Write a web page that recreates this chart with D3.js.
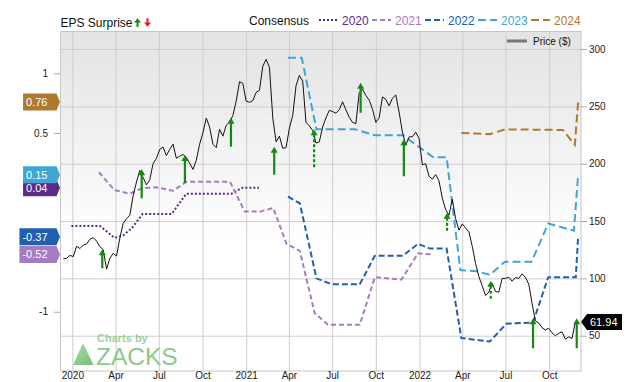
<!DOCTYPE html>
<html><head><meta charset="utf-8">
<script src="https://cdn.jsdelivr.net/npm/d3@7"></script>
<style>body{margin:0;background:#fff}svg{display:block;font-family:"Liberation Sans",Arial,sans-serif}</style>
</head><body><svg id="c" width="640" height="382"></svg>
<script>
// ---------- DATA ----------
const priceStart = "2019-12-13"; // weekly closes
const priceValues = [117,117.5,120,119,128,126,129,130,134,135.5,
132.5,127.6,125,108,117.5,121.8,119.5,135,148,152,
155,172,184,194,188,181.5,186,200,204.5,212.5,
214.5,207,212.5,217,204.7,206.5,208,205.5,200.5,195,
203,217,227,239.8,232,217,214,230,224,233.5,
236.3,242,254.5,271.5,270,254.5,253.5,255,262.2,264,
285,291,284,240,219,224,213.4,214,231,242,
268,277,272,236,233,229,218,219,232,240,
246.5,245.5,244,247,254,247,240.5,236,235,262,
265,259.5,255.5,247.5,236,240,258.3,256,250.5,257,
260,245,227.5,216,223.3,223.5,227.5,222,199,200,
189,186.5,190.5,185,170,160,155,169,152,142,
147.5,144,140.5,128,113,101.5,93.5,85,88,95.5,
88.5,88,100,100,101,97.5,100.7,100,104,101,
95,78,63,61,57,55,56.5,52.5,50,52,
53.5,47,49,47.5,61.94];
const lastPrice = 61.94;

const consensusYears = ["2020","2021","2022","2023","2024"];
const cons2020 = [["2019-12-30",-0.28],["2020-02-28",-0.28],["2020-03-30",-0.38],["2020-04-17",-0.36],["2020-05-05",-0.30],["2020-05-28",-0.18],["2020-07-28",-0.18],["2020-08-28",-0.01],["2020-12-01",-0.01],["2020-12-24",0.04],["2021-01-28",0.04]];
const cons2021 = [["2020-02-26",0.17],["2020-03-30",0.02],["2020-05-01",-0.01],["2020-05-26",0.035],["2020-06-26",0.044],["2020-07-31",0.015],["2020-08-28",0.09],["2020-11-28",0.09],["2020-12-29",-0.16],["2021-01-30",-0.16],["2021-02-27",-0.13],["2021-03-27",-0.43],["2021-04-24",-0.49],["2021-05-25",-1.01],["2021-06-22",-1.11],["2021-08-28",-1.11],["2021-09-29",-0.71],["2021-11-24",-0.73],["2021-12-29",-0.51],["2022-01-30",-0.52]];
const cons2022 = [["2021-03-30",-0.035],["2021-04-24",-0.09],["2021-05-29",-0.72],["2021-06-30",-0.77],["2021-08-28",-0.77],["2021-09-29",-0.53],["2021-11-27",-0.53],["2021-12-29",-0.43],["2022-01-23",-0.47],["2022-02-27",-0.47],["2022-03-30",-1.22],["2022-05-29",-1.25],["2022-07-03",-1.10],["2022-08-28",-1.09],["2022-09-29",-0.71],["2022-11-26",-0.71],["2022-12-01",-0.37]];
const cons2023 = [["2021-03-30",1.13],["2021-04-28",1.13],["2021-05-29",0.53],["2021-08-18",0.53],["2021-09-29",0.48],["2021-11-27",0.48],["2022-01-30",0.295],["2022-02-27",0.295],["2022-03-28",-0.65],["2022-05-01",-0.66],["2022-05-29",-0.69],["2022-06-30",-0.58],["2022-08-25",-0.58],["2022-09-29",-0.26],["2022-11-22",-0.32],["2022-12-01",0.15]];
const cons2024 = [["2022-03-30",0.50],["2022-05-29",0.49],["2022-06-30",0.53],["2022-10-30",0.525],["2022-11-24",0.40],["2022-12-01",0.76]];
const consBadges = [0.04,-0.52,-0.37,0.15,0.76];

const surpriseDates = ["2020-03-04","2020-05-26","2020-08-25","2020-11-30","2021-03-01","2021-05-24","2021-08-30","2021-11-29","2022-02-28","2022-05-31","2022-08-28","2022-11-28"];
const surprisePrice = [125.3,195.1,207.6,240.1,214.8,230.0,270.6,221.3,157.3,98.0,65.2,65.2];
const surprisePct = [16,56,52,56,52,92,60,88,16,16,60,60];
const surpriseSmall = [false,false,false,false,false,true,false,false,true,true,false,false];

const priceTicks = [50,100,150,200,250,300];
const epsTicks = [1,0.5,-1]; // 0 and -0.5 sit under the consensus badges
const monthTicks = ["2020-01-01","2020-04-01","2020-07-01","2020-10-01","2021-01-01","2021-04-01","2021-07-01","2021-10-01","2022-01-01","2022-04-01","2022-07-01","2022-10-01"];
const monthLabels = ["2020","Apr","Jul","Oct","2021","Apr","Jul","Oct","2022","Apr","Jul","Oct"];

// ---------- STYLE ----------
const yearColors = ["#5b2c86","#a57cc2","#2060b0","#40a5d5","#b07a2e"];
const yearDash = ["2,2","5,3","6,3","8,4","8,4"];
const consData = [cons2020,cons2021,cons2022,cons2023,cons2024];
const green = "#148a14", red = "#e31b1b";

const svg = d3.select("#c");
const parse = d3.timeParse("%Y-%m-%d");
const M = {l:60, r:581, t:31, b:371};
const x = d3.scaleTime().domain([parse("2019-12-06"), parse("2022-12-07")]).range([M.l, M.r]);
const yP = d3.scaleLinear().domain([19.22, 315.7]).range([M.b, M.t]);
const yE = d3.scaleLinear().domain([-1.497, 1.355]).range([M.b, M.t]);

// background gradient
const defs = svg.append("defs");
const gr = defs.append("linearGradient").attr("id","bg").attr("x1",0).attr("x2",0).attr("y1",0).attr("y2",1);
gr.append("stop").attr("offset","0%").attr("stop-color","#e4e4e4");
gr.append("stop").attr("offset","12%").attr("stop-color","#e8e8e8");
gr.append("stop").attr("offset","62%").attr("stop-color","#ffffff");
gr.append("stop").attr("offset","100%").attr("stop-color","#ffffff");
const lg = defs.append("linearGradient").attr("id","logo").attr("x1",0).attr("x2",1).attr("y1",0).attr("y2",1);
lg.append("stop").attr("offset","0%").attr("stop-color","#9ad69a");
lg.append("stop").attr("offset","100%").attr("stop-color","#5fb65f");

svg.append("rect").attr("x",M.l).attr("y",M.t).attr("width",M.r-M.l).attr("height",M.b-M.t).attr("fill","url(#bg)");

// gridlines
const gridY = svg.append("g").attr("transform",`translate(${M.l},0)`)
  .call(d3.axisRight(yP).tickValues(priceTicks).tickSize(M.r-M.l).tickFormat(""));
gridY.select(".domain").remove();
gridY.selectAll("line").attr("stroke","#cdcdcd");
const mDates = monthTicks.map(parse);
const gridX = svg.append("g").attr("transform",`translate(0,${M.b})`)
  .call(d3.axisTop(x).tickValues(mDates).tickSize(M.b-M.t).tickFormat(""));
gridX.select(".domain").remove();
gridX.selectAll("line").attr("stroke","#cdcdcd");

// logo watermark
const logo = svg.append("g").attr("opacity",0.85);
logo.append("path").attr("d","M73,365L83,343L93.5,365Z").attr("fill","url(#logo)");
logo.append("text").attr("x",97).attr("y",342).attr("font-size",11).attr("font-weight","bold").attr("fill","#8cc98c").text("Charts by");
logo.append("text").attr("x",96).attr("y",365).attr("font-size",24.5).attr("fill","#78c078").text("ZACKS");

// border
svg.append("rect").attr("x",M.l+0.5).attr("y",M.t+0.5).attr("width",M.r-M.l-0.5).attr("height",M.b-M.t-0.5)
  .attr("fill","none").attr("stroke","#c6c6c6");

// consensus lines
consData.forEach((arr,i)=>{
  const line = d3.line().x(d=>x(parse(d[0]))).y(d=>yE(d[1]));
  svg.append("path").datum(arr).attr("d",line).attr("fill","none")
    .attr("stroke",yearColors[i]).attr("stroke-width",2).attr("stroke-dasharray",yearDash[i]);
});

// price line
const priceData = priceValues.map((v,i)=>({d:d3.timeDay.offset(parse(priceStart),7*i), v}));
svg.append("path").datum(priceData)
  .attr("d",d3.line().x(d=>x(d.d)).y(d=>yP(d.v)))
  .attr("fill","none").attr("stroke","#111").attr("stroke-width",1);

// surprise arrows
const arrowLen = d3.scaleLinear().domain([0,100]).range([15,40]);
surpriseDates.forEach((d,i)=>{
  const xx = x(parse(d)), y0 = yP(surprisePrice[i]), L = arrowLen(surprisePct[i]);
  svg.append("line").attr("x1",xx).attr("x2",xx).attr("y1",y0+5).attr("y2",y0+L)
    .attr("stroke",green).attr("stroke-width",2.2)
    .attr("stroke-dasharray",surpriseSmall[i]?"3,2":null);
  svg.append("path").attr("d",`M${xx},${y0}L${xx+3.5},${y0+6}L${xx-3.5},${y0+6}Z`).attr("fill",green);
});

// axes
const axR = svg.append("g").attr("transform",`translate(${M.r},0)`)
  .call(d3.axisRight(yP).tickValues(priceTicks).tickSize(6).tickPadding(2));
axR.select(".domain").remove();
axR.selectAll("line").attr("stroke","#aaa");
axR.selectAll("text").attr("font-size",10).attr("font-family","Liberation Sans, Arial").attr("fill","#222");

const axL = svg.append("g").attr("transform",`translate(${M.l},0)`)
  .call(d3.axisLeft(yE).tickValues(epsTicks).tickSize(6).tickPadding(6).tickFormat(d=>String(d)));
axL.select(".domain").remove();
axL.selectAll("line").attr("stroke","#aaa");
axL.selectAll("text").attr("font-size",10).attr("font-family","Liberation Sans, Arial").attr("fill","#222");

const axB = svg.append("g").attr("transform",`translate(0,${M.b})`)
  .call(d3.axisBottom(x).tickValues(mDates).tickSize(0).tickPadding(1).tickFormat((d,i)=>monthLabels[i]));
axB.select(".domain").remove();
axB.selectAll("text").attr("font-size",10).attr("font-family","Liberation Sans, Arial").attr("fill","#222");

// consensus badges (left)
consBadges.forEach((v,i)=>{
  const yy = yE(v);
  const g = svg.append("g");
  const t = g.append("text").attr("x",47.5).attr("y",yy).attr("dy","0.36em").attr("text-anchor","end")
    .attr("font-size",11).attr("fill","#fff").text(String(v));
  const w = t.node().getComputedTextLength();
  const x0 = 47.5 - w - 3;
  g.insert("path","text").attr("d",`M${x0},${yy-8.5}H56.5L60,${yy}L56.5,${yy+8.5}H${x0}Z`).attr("fill",yearColors[i]);
});

// last price badge (right)
{
  const yy = yP(lastPrice);
  svg.append("path").attr("d",`M581,${yy}L587,${yy-8}H622V${yy+8}H587Z`).attr("fill","#000");
  svg.append("text").attr("x",590).attr("y",yy).attr("dy","0.36em").attr("font-size",11).attr("fill","#fff").text(lastPrice.toFixed(2));
}

// legend
svg.append("text").attr("x",60.5).attr("y",26.5).attr("font-size",12).attr("fill","#111").text("EPS Surprise");
svg.append("line").attr("x1",137.5).attr("x2",137.5).attr("y1",22).attr("y2",27).attr("stroke",green).attr("stroke-width",2);
svg.append("path").attr("d","M137.5,18.3L141,22.5H134Z").attr("fill",green);
svg.append("line").attr("x1",147.5).attr("x2",147.5).attr("y1",18.3).attr("y2",23).attr("stroke",red).attr("stroke-width",2);
svg.append("path").attr("d","M147.5,26.7L151,22.5H144Z").attr("fill",red);

svg.append("text").attr("x",249).attr("y",25).attr("font-size",12).attr("fill","#111").text("Consensus");
const legX = [319,372,425,478,531];
consensusYears.forEach((yr,i)=>{
  svg.append("line").attr("x1",legX[i]).attr("x2",legX[i]+19).attr("y1",20).attr("y2",20)
    .attr("stroke",yearColors[i]).attr("stroke-width",2).attr("stroke-dasharray",yearDash[i]);
  svg.append("text").attr("x",legX[i]+23).attr("y",25).attr("font-size",12).attr("fill",yearColors[i]).text(yr);
});

svg.append("line").attr("x1",507).attr("x2",527).attr("y1",41).attr("y2",41).attr("stroke","#777").attr("stroke-width",3);
svg.append("text").attr("x",533).attr("y",45).attr("font-size",10).attr("fill","#111").text("Price ($)");
</script></body></html>
